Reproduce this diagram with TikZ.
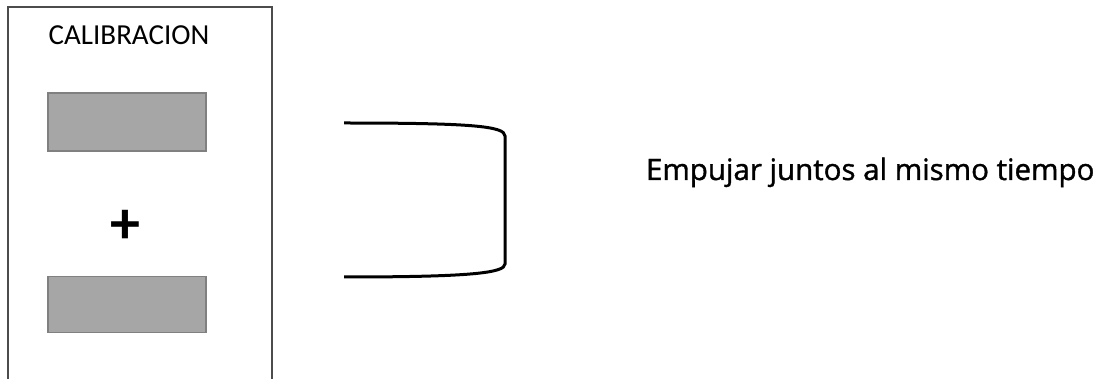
\documentclass[tikz,border=0pt]{standalone}
\usepackage{fontspec}
\setmainfont{Carlito}
\newfontfamily\segoe[FakeBold=1.2]{Open Sans}
\begin{document}
\begin{tikzpicture}[x=1pt,y=-1pt,
  panel/.style={draw=black!70,line width=1.3pt},
  keybox/.style={draw=black!50,fill=black!35,line width=1.8pt,minimum width=158pt,minimum height=58pt,inner sep=0pt,outer sep=0pt},
  brace/.style={draw=black,line width=3pt},
  lbl/.style={inner sep=0pt,outer sep=0pt,text=black}]
\useasboundingbox (0,0) rectangle (1112,379);
\clip (0,0) rectangle (1112,379);
\draw[panel] (8,400) -- (8,7) -- (272,7) -- (272,400);
\node[lbl,anchor=base,font=\fontsize{29}{34}\selectfont] (title) at (129,45) {CALIBRACION};
\node[keybox] (k1) at (127,122) {};
\node[lbl,font=\fontsize{60}{64}\selectfont\bfseries] (plus) at (125,227) {+};
\node[keybox,minimum height=56pt] (k2) at (127,304.5) {};
\coordinate (bt) at (344,123);
\coordinate (bb) at (344,277);
\draw[brace] (bt) .. controls (470,123) and (505,126) .. (505,136) -- (505,264) .. controls (505,273) and (470,277) .. (bb);
\node[lbl,anchor=base west,font=\segoe\fontsize{29.5}{34}\selectfont] (txt) at (646,180) {Empujar juntos al mismo tiempo};
\end{tikzpicture}
\end{document}
